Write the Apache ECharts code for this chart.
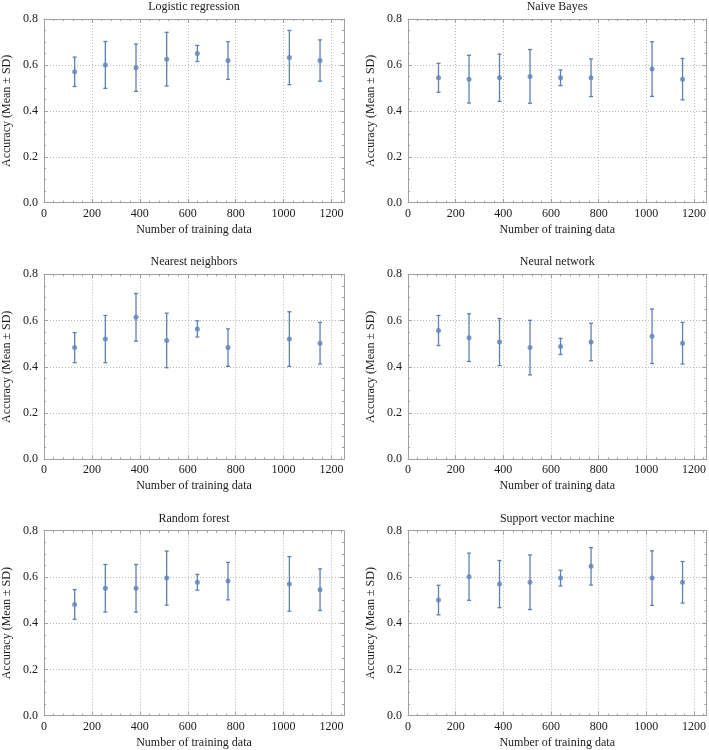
<!DOCTYPE html>
<html><head><meta charset="utf-8">
<script src="https://cdn.jsdelivr.net/npm/echarts@6/dist/echarts.min.js"></script>
<style>html,body{margin:0;padding:0;background:#fff}#c{width:709px;height:750px}</style>
</head><body><div id="c"></div>
<script>
const trainingSizes = [128, 256, 384, 512, 640, 768, 1024, 1152];
const modelNames = ['Logistic regression', 'Naive Bayes', 'Nearest neighbors', 'Neural network', 'Random forest', 'Support vector machine'];
const xTickLabels = [0, 200, 400, 600, 800, 1000, 1200];
const yTickLabels = [0, 0.2, 0.4, 0.6, 0.8];

const logisticMean = [0.570, 0.600, 0.588, 0.625, 0.650, 0.619, 0.632, 0.619];
const logisticSD   = [0.064, 0.102, 0.103, 0.117, 0.035, 0.082, 0.118, 0.090];
const bayesMean    = [0.544, 0.538, 0.544, 0.550, 0.544, 0.544, 0.582, 0.538];
const bayesSD      = [0.063, 0.104, 0.103, 0.117, 0.034, 0.082, 0.119, 0.090];
const neighborMean = [0.483, 0.520, 0.614, 0.514, 0.564, 0.483, 0.520, 0.502];
const neighborSD   = [0.065, 0.102, 0.103, 0.118, 0.035, 0.081, 0.118, 0.090];
const neuralMean   = [0.557, 0.526, 0.507, 0.483, 0.488, 0.507, 0.532, 0.502];
const neuralSD     = [0.065, 0.103, 0.102, 0.118, 0.035, 0.081, 0.118, 0.090];
const forestMean   = [0.481, 0.551, 0.551, 0.595, 0.577, 0.582, 0.570, 0.545];
const forestSD     = [0.064, 0.103, 0.103, 0.117, 0.034, 0.081, 0.118, 0.090];
const svmMean      = [0.500, 0.601, 0.569, 0.577, 0.595, 0.646, 0.595, 0.577];
const svmSD        = [0.064, 0.102, 0.102, 0.118, 0.034, 0.081, 0.118, 0.090];

const allMeans = [logisticMean, bayesMean, neighborMean, neuralMean, forestMean, svmMean];
const allSDs = [logisticSD, bayesSD, neighborSD, neuralSD, forestSD, svmSD];

const FONT = 'Liberation Serif';
const COLOR = '#5E81B5';
const FRAME = '#a0a0a0';
const GRIDC = '#b8b8b8';
const XMAX = 1252;
const xMinor = [];
for (let v = 40; v < XMAX; v += 40) if (v % 200 !== 0) xMinor.push(v);

const lefts = [44, 408];
const tops = [17.7, 274.3, 530.7];

const grid = [], xAxis = [], yAxis = [], series = [];
const txt = { fontFamily: FONT, fontSize: 12, color: '#1a1a1a' };
const dotted = { type: [1, 2], color: GRIDC, width: 1 };

function renderErr(params, api) {
  const x = api.value(0), m = api.value(1), s = api.value(2);
  const hi = api.coord([x, m + s]);
  const lo = api.coord([x, m - s]);
  const style = { stroke: COLOR, lineWidth: 1.3 };
  const w = 2;
  return { type: 'group', children: [
    { type: 'line', shape: { x1: hi[0], y1: hi[1], x2: lo[0], y2: lo[1] }, style },
    { type: 'line', shape: { x1: hi[0] - w, y1: hi[1], x2: hi[0] + w, y2: hi[1] }, style },
    { type: 'line', shape: { x1: lo[0] - w, y1: lo[1], x2: lo[0] + w, y2: lo[1] }, style }
  ]};
}

for (let i = 0; i < 6; i++) {
  const col = i % 2, row = Math.floor(i / 2);
  grid.push({ left: lefts[col], top: tops[row], width: 300, height: 185 });
  const xb = { type: 'value', gridIndex: i, min: 0, max: XMAX, interval: 200 };
  xAxis.push(Object.assign({}, xb, {
    position: 'bottom',
    axisLine: { show: true, onZero: false, lineStyle: { color: FRAME, width: 1 } },
    axisTick: { show: true, inside: true, length: 4, customValues: xTickLabels, lineStyle: { color: FRAME } },
    axisLabel: Object.assign({ customValues: xTickLabels, margin: 5, formatter: v => String(v) }, txt),
    splitLine: { show: true, lineStyle: dotted },
    name: 'Number of training data', nameLocation: 'middle', nameGap: 21,
    nameTextStyle: txt
  }));
  xAxis.push(Object.assign({}, xb, {
    position: 'bottom',
    axisLine: { show: false, onZero: false },
    axisTick: { show: true, inside: true, length: 2, customValues: xMinor, lineStyle: { color: FRAME } },
    axisLabel: { show: false }, splitLine: { show: false }
  }));
  xAxis.push(Object.assign({}, xb, {
    position: 'top',
    axisLine: { show: true, onZero: false, lineStyle: { color: FRAME, width: 1 } },
    axisTick: { show: true, inside: true, length: 4, customValues: xTickLabels, lineStyle: { color: FRAME } },
    axisLabel: { show: false }, splitLine: { show: false },
    name: modelNames[i], nameLocation: 'middle', nameGap: 6, nameTextStyle: txt
  }));
  xAxis.push(Object.assign({}, xb, {
    position: 'top',
    axisLine: { show: false, onZero: false },
    axisTick: { show: true, inside: true, length: 2, customValues: xMinor, lineStyle: { color: FRAME } },
    axisLabel: { show: false }, splitLine: { show: false }
  }));
  const yb = { type: 'value', gridIndex: i, min: 0, max: 0.8, interval: 0.2 };
  yAxis.push(Object.assign({}, yb, {
    position: 'left',
    axisLine: { show: true, onZero: false, lineStyle: { color: FRAME, width: 1 } },
    axisTick: { show: true, inside: true, length: 4, lineStyle: { color: FRAME } },
    minorTick: { show: true, splitNumber: 4, length: 2, lineStyle: { color: FRAME } },
    axisLabel: Object.assign({ margin: 6, formatter: v => v.toFixed(1) }, txt),
    splitLine: { show: true, lineStyle: dotted },
    name: 'Accuracy (Mean \u00b1 SD)', nameLocation: 'middle', nameGap: 31, nameRotate: 90,
    nameTextStyle: txt
  }));
  yAxis.push(Object.assign({}, yb, {
    position: 'right',
    axisLine: { show: true, onZero: false, lineStyle: { color: FRAME, width: 1 } },
    axisTick: { show: true, inside: true, length: 4, lineStyle: { color: FRAME } },
    minorTick: { show: true, splitNumber: 4, length: 2, lineStyle: { color: FRAME } },
    axisLabel: { show: false }, splitLine: { show: false }
  }));
  const m = allMeans[i], s = allSDs[i];
  series.push({
    type: 'custom', xAxisIndex: 4 * i, yAxisIndex: 2 * i,
    renderItem: renderErr,
    data: trainingSizes.map((x, j) => [x, m[j], s[j]]),
    z: 3, silent: true
  });
  series.push({
    type: 'scatter', xAxisIndex: 4 * i, yAxisIndex: 2 * i,
    data: trainingSizes.map((x, j) => [x, m[j]]),
    symbol: 'circle', symbolSize: 5,
    itemStyle: { color: COLOR },
    z: 4, silent: true
  });
}

const chart = echarts.init(document.getElementById('c'), null, { renderer: 'canvas' });
chart.setOption({ animation: false, backgroundColor: '#fff', grid, xAxis, yAxis, series });
</script>
</body></html>
